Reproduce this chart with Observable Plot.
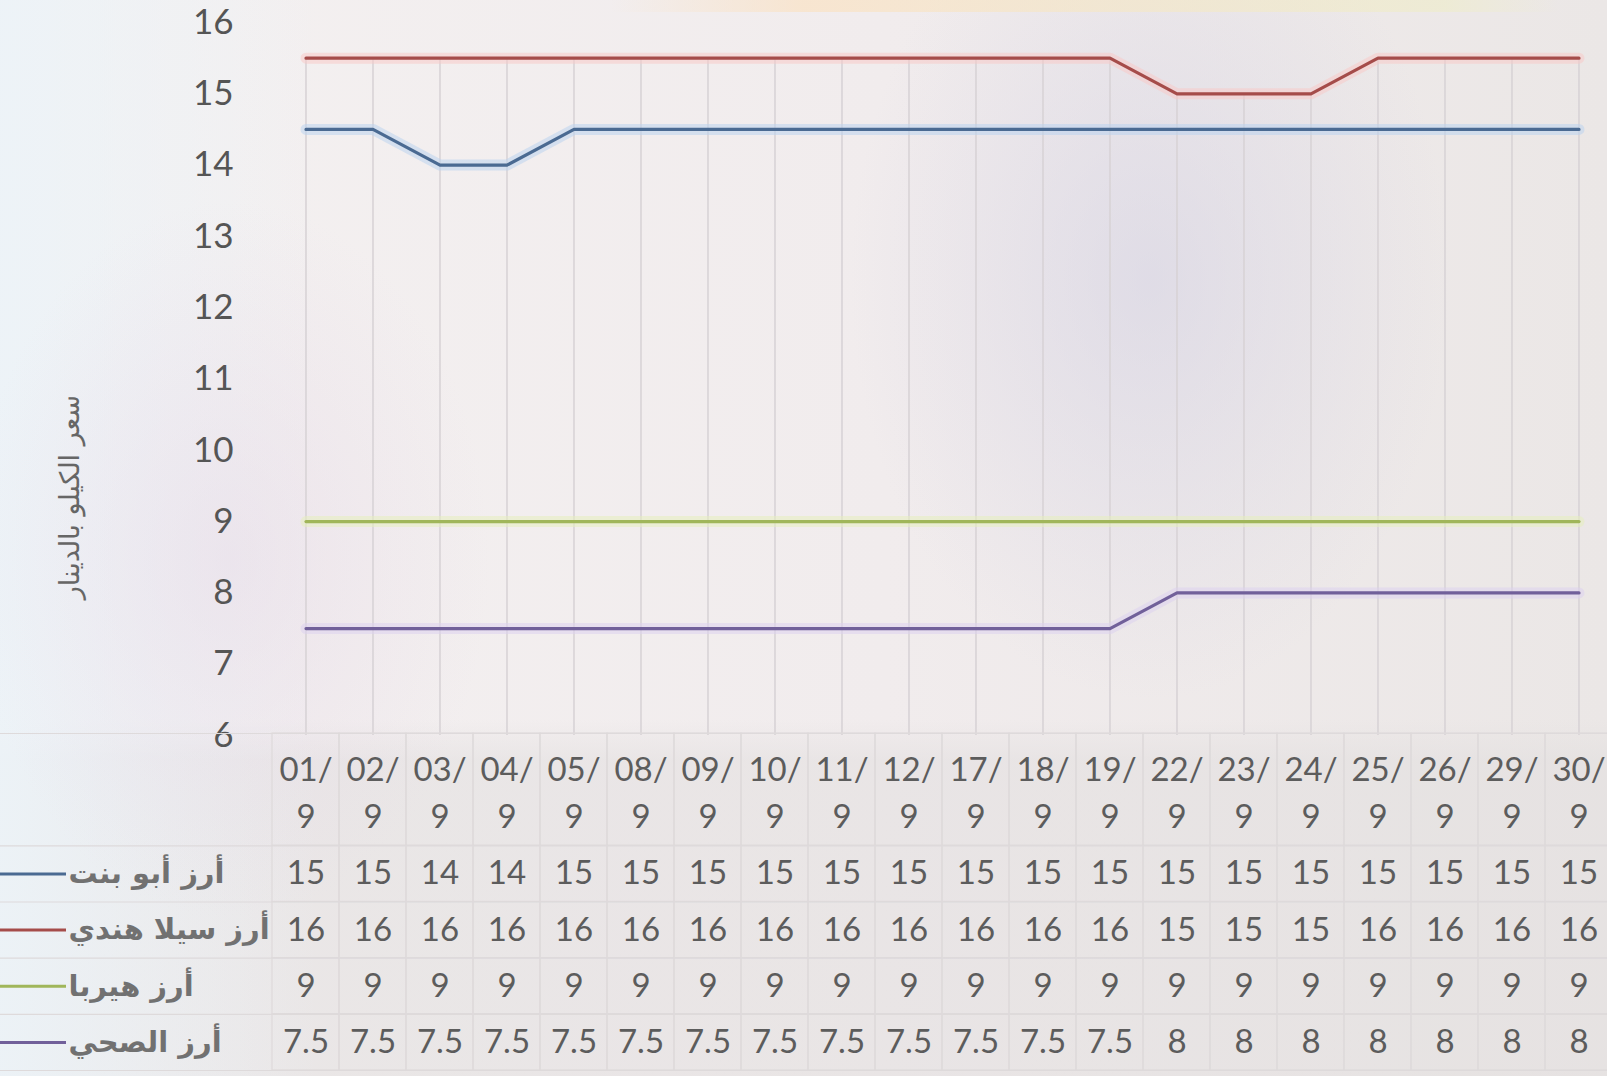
<!DOCTYPE html>
<html>
<head>
<meta charset="utf-8">
<script src="https://cdn.jsdelivr.net/npm/d3@7"></script>
<script src="https://cdn.jsdelivr.net/npm/@observablehq/plot@0.6"></script>
<style>
  html, body { margin: 0; padding: 0; }
  body { width: 1607px; height: 1076px; overflow: hidden; background: #f1eded; }
  #wrap {
    position: relative; width: 1607px; height: 1076px; overflow: hidden;
    background:
      linear-gradient(90deg, rgba(0,0,0,0) 38%, rgba(250,226,196,0.7) 50%, rgba(238,236,205,0.7) 90%, rgba(0,0,0,0) 97%) 0 0 / 100% 12px no-repeat,
      radial-gradient(ellipse 300px 420px at 1150px 280px, rgba(208,206,226,0.5), rgba(208,206,226,0) 100%),
      radial-gradient(ellipse 260px 360px at 230px 560px, rgba(228,214,230,0.45), rgba(228,214,230,0) 100%),
      linear-gradient(90deg, rgba(236,243,248,0.9) 0px, rgba(236,243,248,0) 320px),
      linear-gradient(180deg, rgba(0,0,0,0) 720px, rgba(225,222,222,0.5) 760px),
      linear-gradient(90deg, #f4f1f1 0%, #f1eced 55%, #ebe7e6 100%);
  }
  #wrap svg { position: absolute; left: 0; top: 0; }
</style>
</head>
<body>
<div id="wrap"></div>
<script>
const W = 1607, H = 1076;

// ---- data ----
const dateLabels = ["01/9","02/9","03/9","04/9","05/9","08/9","09/9","10/9","11/9","12/9",
                    "17/9","18/9","19/9","22/9","23/9","24/9","25/9","26/9","29/9","30/9"];
const seriesNames = ["أرز أبو بنت", "أرز سيلا هندي", "أرز هيربا", "أرز الصحي"];
const seriesColors = ["#4a6a92", "#a54c4a", "#a0b65a", "#71609a"];
const haloColors   = ["#bcd3ee", "#f7cac8", "#e6efbd", "#ddd2ee"];

const abuBint   = [14.5,14.5,14,14,14.5,14.5,14.5,14.5,14.5,14.5,14.5,14.5,14.5,14.5,14.5,14.5,14.5,14.5,14.5,14.5];
const silaHindi = [15.5,15.5,15.5,15.5,15.5,15.5,15.5,15.5,15.5,15.5,15.5,15.5,15.5,15,15,15,15.5,15.5,15.5,15.5];
const herba     = [9,9,9,9,9,9,9,9,9,9,9,9,9,9,9,9,9,9,9,9];
const sahi      = [7.5,7.5,7.5,7.5,7.5,7.5,7.5,7.5,7.5,7.5,7.5,7.5,7.5,8,8,8,8,8,8,8];

// values as printed in the data table under the chart
const tableAbuBint   = ["15","15","14","14","15","15","15","15","15","15","15","15","15","15","15","15","15","15","15","15"];
const tableSilaHindi = ["16","16","16","16","16","16","16","16","16","16","16","16","16","15","15","15","16","16","16","16"];
const tableHerba     = ["9","9","9","9","9","9","9","9","9","9","9","9","9","9","9","9","9","9","9","9"];
const tableSahi      = ["7.5","7.5","7.5","7.5","7.5","7.5","7.5","7.5","7.5","7.5","7.5","7.5","7.5","8","8","8","8","8","8","8"];

const yTicks = [6,7,8,9,10,11,12,13,14,15,16];
const yTitle = "سعر الكيلو بالدينار";

// ---- derived tables ----
const seriesValues = [abuBint, silaHindi, herba, sahi];
const tableValues = [tableAbuBint, tableSilaHindi, tableHerba, tableSahi];
const seriesRows = seriesValues.map(vals => vals.map((v, i) => ({date: dateLabels[i], value: v})));
const dropRows = dateLabels.map((d, i) => ({date: d, top: d3.max(seriesValues, s => s[i])}));

const gridColor = "#d8d3d6";
const tableGrid = "#dedadb";
const xBand = {type: "band", domain: dateLabels, range: [269.4, 1614.6], padding: 0, axis: null};

// ---- chart ----
const chart = Plot.plot({
  width: W, height: H,
  marginLeft: 269, marginRight: 0, marginTop: 22, marginBottom: H - 735,
  style: {background: "transparent", fontFamily: "Lato, sans-serif", color: "#555", overflow: "visible"},
  x: xBand,
  y: {domain: [6, 16], range: [735, 22], axis: null},
  marks: [
    Plot.ruleX(dropRows, {x: "date", y1: 6, y2: "top", stroke: gridColor, strokeWidth: 1.6}),
    ...seriesRows.map((rows, k) => Plot.line(rows, {x: "date", y: "value", stroke: haloColors[k], strokeWidth: 11, strokeOpacity: 0.55})),
    ...seriesRows.map((rows, k) => Plot.line(rows, {x: "date", y: "value", stroke: seriesColors[k], strokeWidth: 3.2})),
    Plot.axisY({ticks: yTicks, tickSize: 0, tickPadding: 36, fontSize: 35, label: null, anchor: "left"}),
    Plot.text([yTitle], {frameAnchor: "left", dx: -199, dy: 118, rotate: -90, textAnchor: "middle",
                         fontSize: 27, fontFamily: "DejaVu Sans", fill: "#666"})
  ]
});

// ---- data table under the chart ----
const cellRects = [];
const cellTexts = [];
dateLabels.forEach((d, i) => {
  cellRects.push({date: d, y1: 0, y2: 2});
  tableValues.forEach((vals, k) => {
    cellRects.push({date: d, y1: k + 2, y2: k + 3});
    cellTexts.push({date: d, y: k + 2.5, text: vals[i]});
  });
});

const table = Plot.plot({
  width: W, height: H, margin: 0,
  style: {background: "transparent", fontFamily: "Lato, sans-serif", color: "#5a5a5a", overflow: "visible"},
  x: xBand,
  y: {domain: [0, 6], range: [733, 1070], axis: null},
  marks: [
    Plot.ruleY([0, 2, 3, 4, 5, 6], {stroke: tableGrid, strokeWidth: 1.2}),
    Plot.barY(cellRects, {x: "date", y1: "y1", y2: "y2", fill: "none", stroke: tableGrid, strokeWidth: 1.2}),
    Plot.text(dateLabels, {x: d => d, y: 1, text: d => d.replace("/", "/\n"), fontSize: 33, lineHeight: 1.42, fill: "#5c5c5c"}),
    Plot.text(cellTexts, {x: "date", y: "y", text: "text", fontSize: 33, fill: "#5c5c5c"}),
    Plot.text(seriesNames, {y: (d, i) => i + 2.5, frameAnchor: "left", dx: 68, textAnchor: "start",
                            fontFamily: "DejaVu Sans", fontWeight: "bold", fontSize: 29, fill: "#717171"})
  ]
});

// ---- legend keys ----
const legend = Plot.plot({
  width: 66, height: H, margin: 0,
  style: {background: "transparent", overflow: "visible"},
  x: {domain: [0, 1], axis: null},
  y: {domain: [0, 6], range: [733, 1070], axis: null},
  marks: seriesNames.map((s, k) => Plot.ruleY([k + 2.5], {stroke: seriesColors[k], strokeWidth: 3}))
});

const wrap = document.getElementById("wrap");
wrap.appendChild(chart);
wrap.appendChild(table);
wrap.appendChild(legend);
</script>
</body>
</html>
